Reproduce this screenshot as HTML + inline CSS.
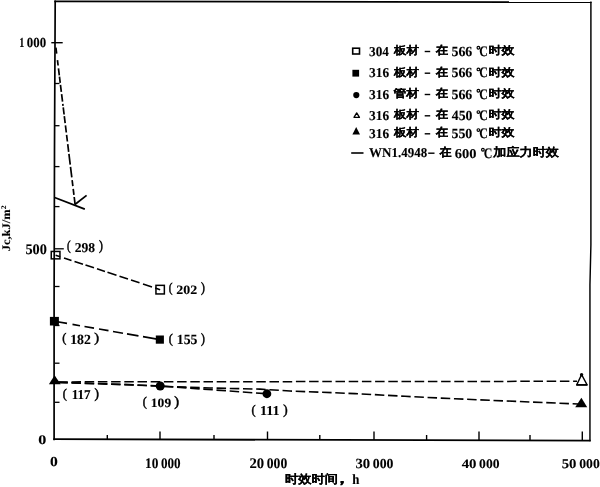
<!DOCTYPE html>
<html><head><meta charset="utf-8"><style>
html,body{margin:0;padding:0;background:#fff;overflow:hidden;}
svg{display:block;will-change:transform;}
text{font-family:"Liberation Serif",serif;font-weight:bold;fill:#000;text-rendering:geometricPrecision;stroke:#000;stroke-width:0.1px;}
text.c{stroke-width:0.12px;}
text.p{font-weight:normal;stroke-width:0.5px;}
text.s{font-family:"Liberation Sans",sans-serif;stroke-width:0.1px;}
</style></head><body>
<svg width="600" height="487" viewBox="0 0 600 487">
<path d="M54.3 1.3 L591.6 2.2" fill="none" stroke="#000" stroke-width="1.7"/>
<path d="M590.9 1.5 L590.9 245 L589.95 285 L589.95 441.3" fill="none" stroke="#000" stroke-width="1.45" stroke-linejoin="round"/>
<path d="M55.2 0.5 L54.5 150 L54.1 300 L54.1 440.3" fill="none" stroke="#000" stroke-width="1.7"/>
<path d="M53.3 439.2 L590.7 440.6" fill="none" stroke="#000" stroke-width="1.8"/>
<path d="M107.3 435 L107.3 440" fill="none" stroke="#000" stroke-width="1.4"/>
<path d="M160 431.5 L160 440" fill="none" stroke="#000" stroke-width="1.4"/>
<path d="M214 435 L214 440" fill="none" stroke="#000" stroke-width="1.4"/>
<path d="M267.5 431.5 L267.5 440" fill="none" stroke="#000" stroke-width="1.4"/>
<path d="M319.8 435 L319.8 440" fill="none" stroke="#000" stroke-width="1.4"/>
<path d="M374 431.5 L374 440" fill="none" stroke="#000" stroke-width="1.4"/>
<path d="M426.6 435 L426.6 440" fill="none" stroke="#000" stroke-width="1.4"/>
<path d="M479 431.5 L479 440" fill="none" stroke="#000" stroke-width="1.4"/>
<path d="M530 435 L530 440" fill="none" stroke="#000" stroke-width="1.4"/>
<path d="M582.3 431.5 L582.3 440" fill="none" stroke="#000" stroke-width="1.4"/>
<path d="M54.8 83.5 L59.5 83.5" fill="none" stroke="#000" stroke-width="1.3"/>
<path d="M54.8 125.7 L59.5 125.7" fill="none" stroke="#000" stroke-width="1.3"/>
<path d="M54.8 166.6 L59.5 166.6" fill="none" stroke="#000" stroke-width="1.3"/>
<path d="M54.8 206.6 L59.5 206.6" fill="none" stroke="#000" stroke-width="1.3"/>
<path d="M54.8 286.5 L59.5 286.5" fill="none" stroke="#000" stroke-width="1.3"/>
<path d="M54.8 325.5 L59.5 325.5" fill="none" stroke="#000" stroke-width="1.3"/>
<path d="M54.8 363.2 L59.5 363.2" fill="none" stroke="#000" stroke-width="1.3"/>
<path d="M54.8 402.3 L59.5 402.3" fill="none" stroke="#000" stroke-width="1.3"/>
<path d="M51.3 42.7 L62.7 42.7" fill="none" stroke="#000" stroke-width="1.4"/>
<path d="M54.5 248.8 L63.8 248.8" fill="none" stroke="#000" stroke-width="1.3"/>
<path d="M55.6 45 L75.1 204.4" fill="none" stroke="#000" stroke-width="1.7" stroke-dasharray="0 2.62 6.04 6.65 5.34 2.92 7.05 1.21 6.25 2.01 7.15 2.22 7.66 2.12 2.01 1.61 7.15 1.61 7.15 2.22 7.15 2.42 6.65 2.72 7.66 2.12 10.78 2.22 10.68 2.72 6.15 2.62 6.04 2.22 7.46 1"/>
<path d="M54.6 197.5 L84.8 209.2" fill="none" stroke="#000" stroke-width="1.8"/>
<path d="M74.9 204.5 L86.6 195.4" fill="none" stroke="#000" stroke-width="1.8"/>
<path d="M55.6 255.15 L160.15 289.65" fill="none" stroke="#000" stroke-width="1.6" stroke-dasharray="0 0 4.84 4 7.9 3.16 8.95 2.63 8.95 3.16 8.42 2.63 9.48 3.16 8.95 3.16 8.95 3.69 9.48 3.37 5.21 1"/>
<rect x="51.25" y="251.45" width="8.7" height="7.4" fill="none" stroke="#000" stroke-width="1.5"/>
<rect x="155.95" y="285.35" width="8.4" height="8.6" fill="none" stroke="#000" stroke-width="1.5"/>
<path d="M54.4 321.2 L159.85 339.6" fill="none" stroke="#000" stroke-width="1.6" stroke-dasharray="0 0 12.79 5.58 7.61 4.57 9.64 5.08 9.64 4.57 10.15 4.06 11.67 4.57 17.1 1"/>
<rect x="49.9" y="316.9" width="9" height="8.6"/>
<rect x="155.8" y="335.5" width="8.1" height="8.2"/>
<path d="M55 381.9 L577 381.3" fill="none" stroke="#000" stroke-width="1.5" stroke-dasharray="9.5 3.7" stroke-dashoffset="-3.3"/>
<path d="M55 382.3 L120 384.2 L160 386.2 L210 388 L260 389.1 L290 391 L355 393.6 L405 396.3 L455 398.8 L578 404" fill="none" stroke="#000" stroke-width="1.6" stroke-dasharray="9.5 3.7" stroke-dashoffset="-3.3"/>
<path d="M55 382.3 L160.2 386 L266.9 393.75" fill="none" stroke="#000" stroke-width="1.6" stroke-dasharray="9.5 3.7" stroke-dashoffset="-3.3"/>
<circle cx="160.2" cy="386" r="4.5"/>
<circle cx="266.9" cy="393.75" r="4.4"/>
<path d="M54.6 375.3 L60.7 384.2 L48.9 384.2 Z"/>
<path d="M581.6 374.6 L587.1 384.9 L576.7 384.9 Z" fill="none" stroke="#000" stroke-width="1.35" stroke-linejoin="round"/>
<circle cx="581.6" cy="374.7" r="1.7"/>
<path d="M576.4 384.9 L587.4 384.9" fill="none" stroke="#000" stroke-width="1.7"/>
<path d="M581.4 397.8 L587.2 407.2 L575.2 407.2 Z"/>
<rect x="352.7" y="48.2" width="6.8" height="5.8" fill="none" stroke="#000" stroke-width="1.6"/>
<rect x="352.4" y="69.8" width="6.7" height="6.8"/>
<circle cx="356.3" cy="95.05" r="3.1"/>
<path d="M356.7 112.95 L359.45 117.35 L353.95 117.35 Z" fill="none" stroke="#000" stroke-width="1.3" stroke-linejoin="round"/>
<path d="M356.2 127 L360 134.6 L352.4 134.6 Z"/>
<path d="M351.2 153 L363.5 153" fill="none" stroke="#000" stroke-width="1.6"/>
<rect x="424.7" y="50.8" width="5.5" height="1.4"/>
<rect x="424.7" y="72.5" width="5.5" height="1.4"/>
<rect x="424.7" y="93.8" width="5.5" height="1.4"/>
<rect x="424.7" y="115.1" width="5.5" height="1.4"/>
<rect x="424.7" y="133.1" width="5.5" height="1.4"/>
<rect x="428.2" y="152.5" width="6.3" height="1.4"/>
<circle cx="478.4" cy="47.75" r="1.35" fill="none" stroke="#000" stroke-width="1.15"/>
<circle cx="478.4" cy="69.45" r="1.35" fill="none" stroke="#000" stroke-width="1.15"/>
<circle cx="478.4" cy="90.75" r="1.35" fill="none" stroke="#000" stroke-width="1.15"/>
<circle cx="478.4" cy="112.05" r="1.35" fill="none" stroke="#000" stroke-width="1.15"/>
<circle cx="478.4" cy="130.05" r="1.35" fill="none" stroke="#000" stroke-width="1.15"/>
<circle cx="482.9" cy="149.75" r="1.35" fill="none" stroke="#000" stroke-width="1.15"/>
<text font-size="13" transform="matrix(0.78 0 0 1.06 19.22 46.7)">1</text>
<text font-size="13" transform="matrix(0.99 0 0 1.06 26.8 46.7)">000</text>
<text font-size="13" transform="matrix(1.1 0 0 1.13 25.45 254)">500</text>
<text font-size="13" transform="matrix(1.24 0 0 1.02 38.18 444.3)">0</text>
<text font-size="13" transform="matrix(1.2 0 0 1.07 50 466.4)">0</text>
<text font-size="13" transform="matrix(1.03 0 0 1.13 144.97 467.6)">10</text>
<text font-size="13" transform="matrix(1.01 0 0 1.13 160.89 467.6)">000</text>
<text font-size="13" transform="matrix(1.13 0 0 1.13 249.43 467.6)">20</text>
<text font-size="13" transform="matrix(1.05 0 0 1.13 266.78 467.6)">000</text>
<text font-size="13" transform="matrix(1.13 0 0 1.07 355.43 467.9)">30</text>
<text font-size="13" transform="matrix(1.06 0 0 1.07 372.77 467.9)">000</text>
<text font-size="13" transform="matrix(1.14 0 0 1 461.71 467.6)">40</text>
<text font-size="13" transform="matrix(1.05 0 0 1 479.08 467.6)">000</text>
<text font-size="13" transform="matrix(1.13 0 0 1.04 561.63 467.9)">50</text>
<text font-size="13" transform="matrix(1.05 0 0 1.04 579.27 467.9)">000</text>
<text class="c" font-size="13" transform="matrix(1.02 0 0 0.91 284.99 483.15)">时效时间</text>
<text class="c" font-size="13" transform="matrix(1.5 0 0 1.07 332.25 483.37)">，</text>
<text font-size="13" transform="matrix(0.99 0 0 1.09 352.35 483.8)">h</text>
<text font-size="13" transform="matrix(0 -0.96 0.89 0 10.32 251.28)">Jc,kJ/m<tspan font-size="8" dy="-5">2</tspan></text>
<text class="p" font-size="13" transform="matrix(0.83 0 0 1.05 67.09 250.02)">(</text>
<text font-size="13" transform="matrix(1.05 0 0 1.04 74.68 251.9)">298</text>
<text class="p" font-size="13" transform="matrix(0.89 0 0 1.09 98.95 250.17)">)</text>
<text class="p" font-size="13" transform="matrix(0.86 0 0 1.03 168.67 291.87)">(</text>
<text font-size="13" transform="matrix(1.07 0 0 0.99 176.26 293.9)">202</text>
<text class="p" font-size="13" transform="matrix(0.89 0 0 1.08 200.95 292.01)">)</text>
<text class="p" font-size="13" transform="matrix(0.94 0 0 1 62.33 341.86)">(</text>
<text font-size="13" transform="matrix(1.06 0 0 1.08 70.14 343.6)">182</text>
<text class="p" font-size="13" transform="matrix(1.11 0 0 1.04 94.15 342)">)</text>
<text class="p" font-size="13" transform="matrix(0.94 0 0 1.03 168.63 342.57)">(</text>
<text font-size="13" transform="matrix(1.06 0 0 1.08 176.84 344.3)">155</text>
<text class="p" font-size="13" transform="matrix(0.89 0 0 1.08 200.95 342.71)">)</text>
<text class="p" font-size="13" transform="matrix(0.94 0 0 1.03 62.63 397.57)">(</text>
<text font-size="13" transform="matrix(1.01 0 0 1.04 71.69 399.3)">117</text>
<text class="p" font-size="13" transform="matrix(1.02 0 0 1.08 94.49 397.71)">)</text>
<text class="p" font-size="13" transform="matrix(0.94 0 0 1.03 142.63 405.97)">(</text>
<text font-size="13" transform="matrix(1.04 0 0 0.99 150.86 407.3)">109</text>
<text class="p" font-size="13" transform="matrix(1.11 0 0 1.08 174.15 406.11)">)</text>
<text class="p" font-size="13" transform="matrix(0.94 0 0 1 251.43 414.04)">(</text>
<text font-size="13" transform="matrix(1.09 0 0 1.04 259.91 414.9)">111</text>
<text class="p" font-size="13" transform="matrix(1.02 0 0 1.05 283.29 414.18)">)</text>
<text font-size="13" transform="matrix(1.02 0 0 1.05 369.09 55.5)">304</text>
<text class="c" font-size="13" transform="matrix(0.96 0 0 0.85 393.98 53.91)">板材</text>
<text class="c" font-size="13" transform="matrix(0.96 0 0 0.88 435.74 54.06)">在</text>
<text font-size="13" transform="matrix(1.07 0 0 1.07 451.46 55.5)">566</text>
<text font-size="13" transform="matrix(0.92 0 0 1.12 479.21 55.6)">C</text>
<text class="c" font-size="13" transform="matrix(1 0 0 0.85 488.4 53.98)">时效</text>
<text font-size="13" transform="matrix(1.03 0 0 1.05 369.08 77.2)">316</text>
<text class="c" font-size="13" transform="matrix(0.96 0 0 0.85 393.98 75.61)">板材</text>
<text class="c" font-size="13" transform="matrix(0.96 0 0 0.88 435.74 75.76)">在</text>
<text font-size="13" transform="matrix(1.07 0 0 1.07 451.46 77.2)">566</text>
<text font-size="13" transform="matrix(0.92 0 0 1.12 479.21 77.3)">C</text>
<text class="c" font-size="13" transform="matrix(1 0 0 0.85 488.4 75.68)">时效</text>
<text font-size="13" transform="matrix(1.03 0 0 1.05 369.08 98.5)">316</text>
<text class="c" font-size="13" transform="matrix(0.98 0 0 0.85 393.5 96.91)">管材</text>
<text class="c" font-size="13" transform="matrix(0.96 0 0 0.88 435.74 97.06)">在</text>
<text font-size="13" transform="matrix(1.07 0 0 1.07 451.46 98.5)">566</text>
<text font-size="13" transform="matrix(0.92 0 0 1.12 479.21 98.6)">C</text>
<text class="c" font-size="13" transform="matrix(1 0 0 0.85 488.4 96.98)">时效</text>
<text font-size="13" transform="matrix(1.03 0 0 1.05 369.08 119.8)">316</text>
<text class="c" font-size="13" transform="matrix(0.96 0 0 0.85 393.98 118.21)">板材</text>
<text class="c" font-size="13" transform="matrix(0.96 0 0 0.88 435.74 118.36)">在</text>
<text font-size="13" transform="matrix(1.06 0 0 1.07 451.74 119.8)">450</text>
<text font-size="13" transform="matrix(0.92 0 0 1.12 479.21 119.9)">C</text>
<text class="c" font-size="13" transform="matrix(1 0 0 0.85 488.4 118.28)">时效</text>
<text font-size="13" transform="matrix(1.03 0 0 1.05 369.08 137.8)">316</text>
<text class="c" font-size="13" transform="matrix(0.96 0 0 0.85 393.98 136.21)">板材</text>
<text class="c" font-size="13" transform="matrix(0.96 0 0 0.88 435.74 136.36)">在</text>
<text font-size="13" transform="matrix(1.07 0 0 1.07 451.46 137.8)">550</text>
<text font-size="13" transform="matrix(0.92 0 0 1.12 479.21 137.9)">C</text>
<text class="c" font-size="13" transform="matrix(1 0 0 0.85 488.4 136.28)">时效</text>
<text font-size="13" transform="matrix(1 0 0 1.04 369.05 157.24)">WN1.4948</text>
<text class="c" font-size="13" transform="matrix(0.93 0 0 0.9 439.53 156.32)">在</text>
<text font-size="13" transform="matrix(1.11 0 0 1.04 454.84 157.6)">600</text>
<text font-size="13" transform="matrix(0.92 0 0 1.12 483.71 157.6)">C</text>
<text class="c" font-size="13" transform="matrix(1.01 0 0 0.9 493.25 156.28)">加应力时效</text>
</svg>
</body></html>
